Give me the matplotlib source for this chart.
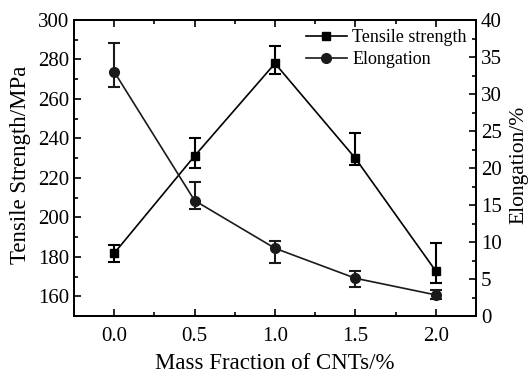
import numpy as np
import matplotlib.pyplot as plt
from matplotlib.lines import Line2D
from matplotlib.ticker import MultipleLocator

plt.rcParams['font.family'] = ['Liberation Serif', 'DejaVu Serif']

# data
cnt = [0.0, 0.5, 1.0, 1.5, 2.0]
tensile = [181.8, 231.1, 278.0, 229.9, 172.8]
tensile_err_low = [4.6, 6.3, 5.4, 3.5, 6.0]
tensile_err_high = [4.2, 8.9, 8.8, 12.7, 14.2]
elong = [33.0, 15.6, 9.15, 5.1, 2.85]
elong_err_low = [2.0, 1.1, 1.95, 1.2, 0.6]
elong_err_high = [3.9, 2.5, 1.0, 1.0, 0.6]

fig = plt.figure(figsize=(5.29, 3.79), dpi=100)
ax = fig.add_axes([74 / 529, 1 - 316 / 379, 402 / 529, 296 / 379])
ax2 = ax.twinx()

ax.errorbar(cnt, tensile, yerr=[tensile_err_low, tensile_err_high],
            color='black', marker='s', markersize=6, linewidth=1.2,
            elinewidth=1.5, capsize=4, capthick=1.5)
ax2.errorbar(cnt, elong, yerr=[elong_err_low, elong_err_high],
             color='#1a1a1a', marker='o', markersize=7, linewidth=1.2,
             elinewidth=1.5, capsize=4, capthick=1.5)

ax.set_xlim(-0.25, 2.25)
ax.set_ylim(150, 300)
ax2.set_ylim(0, 40)

ax.xaxis.set_major_locator(MultipleLocator(0.5))
ax.xaxis.set_minor_locator(MultipleLocator(0.25))
ax.yaxis.set_minor_locator(MultipleLocator(10))
ax2.yaxis.set_major_locator(MultipleLocator(5))
ax2.yaxis.set_minor_locator(MultipleLocator(2.5))
ax.set_yticks(np.arange(160, 301, 20))

ax.tick_params(which='both', direction='in', top=True, labelsize=15, width=1.2)
ax.tick_params(which='major', length=5)
ax.tick_params(which='minor', length=3)
ax.tick_params(axis='x', pad=8)
ax2.tick_params(which='both', direction='in', labelsize=15, width=1.2)
ax2.tick_params(which='major', length=5)
ax2.tick_params(which='minor', length=3)
for a in (ax, ax2):
    for s in a.spines.values():
        s.set_linewidth(1.3)

ax.set_xlabel('Mass Fraction of CNTs/%', fontsize=16.5, labelpad=5)
ax.set_ylabel('Tensile Strength/MPa', fontsize=16.5)
ax.yaxis.set_label_coords(-0.106, 0.51)
ax2.set_ylabel('Elongation/%', fontsize=15.5)
ax2.yaxis.set_label_coords(1.082, 0.51)

handles = [Line2D([], [], color='black', marker='s', markersize=6, linewidth=1.2),
           Line2D([], [], color='#1a1a1a', marker='o', markersize=7, linewidth=1.2)]
ax.legend(handles, ['Tensile strength', 'Elongation'], loc='upper right',
          frameon=False, fontsize=13, handlelength=2.3, handletextpad=0.3,
          borderaxespad=0.3, borderpad=0.2, labelspacing=0.3)

fig.savefig('out.png', dpi=100)
